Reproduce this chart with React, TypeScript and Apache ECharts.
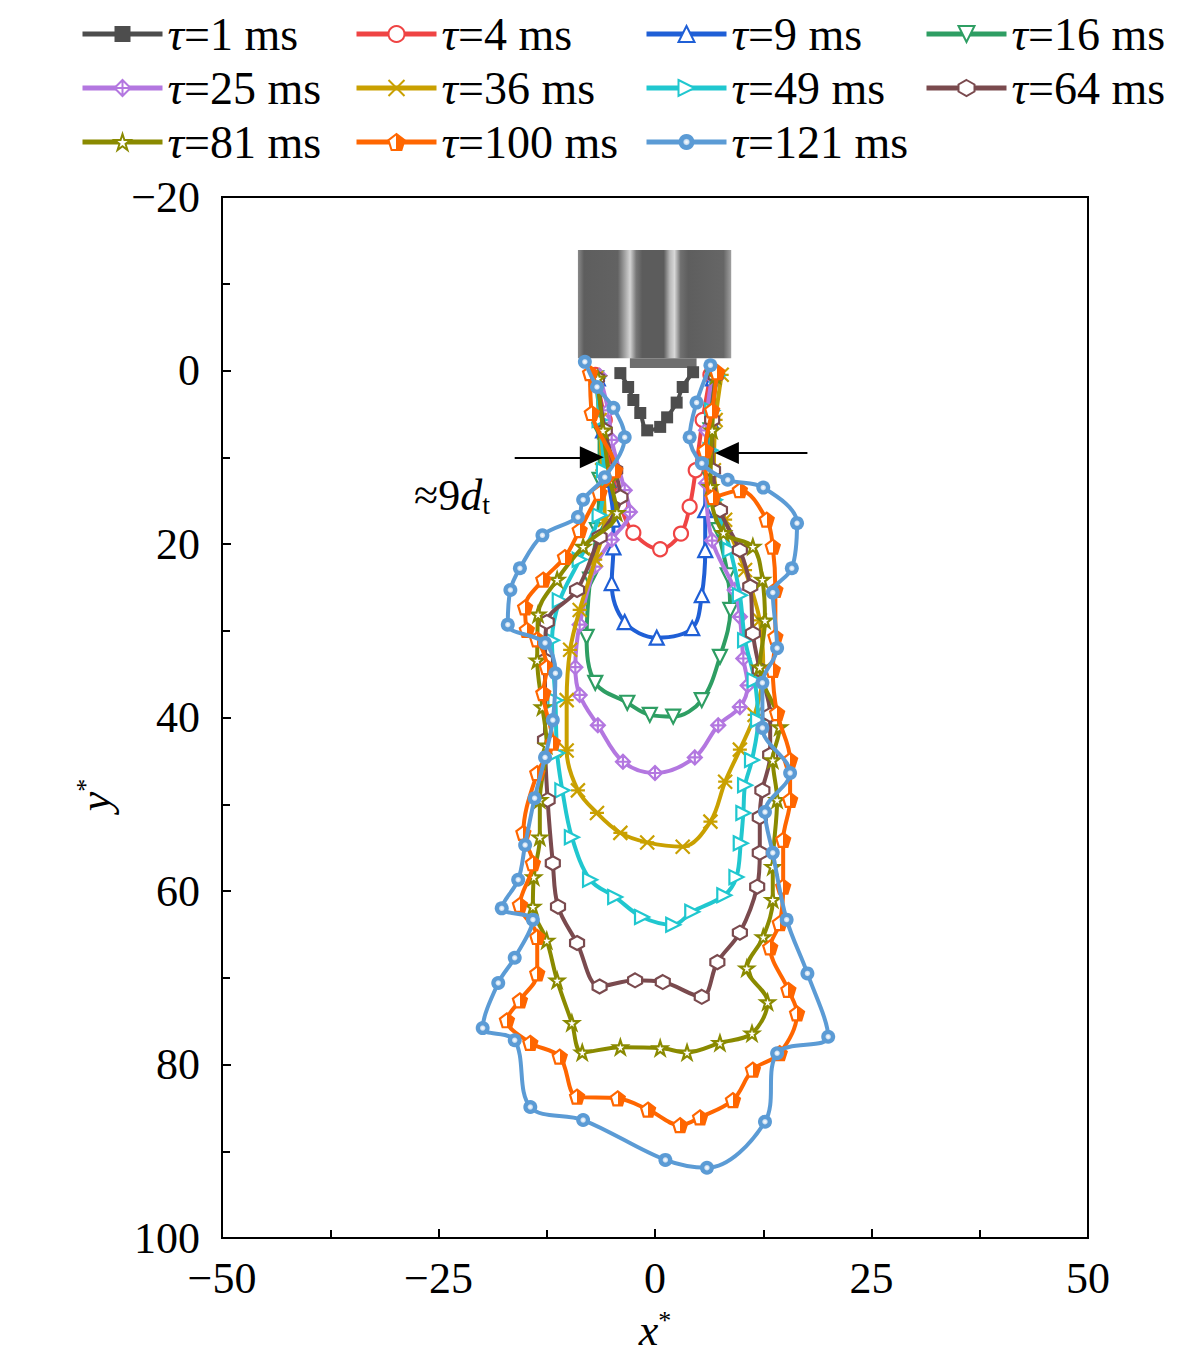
import React, { useEffect, useRef } from 'react';
import * as echarts from 'echarts';

const legendNames = [
  'τ=1 ms', 'τ=4 ms', 'τ=9 ms', 'τ=16 ms', 'τ=25 ms', 'τ=36 ms',
  'τ=49 ms', 'τ=64 ms', 'τ=81 ms', 'τ=100 ms', 'τ=121 ms',
];
const xTicks = [-50, -25, 0, 25, 50];
const yTicks = [-20, 0, 20, 40, 60, 80, 100];

const tau1 = [[-4.0, 0.3], [-3.1, 1.9], [-2.5, 3.4], [-1.7, 4.9], [-0.9, 6.9], [0.6, 6.5], [1.4, 5.4], [2.5, 3.7], [3.2, 1.9], [4.4, 0.2]];
const tau4 = [[-6.9, 0.5], [-5.8, 5.7], [-5.0, 11.5], [-4.0, 15.5], [-2.5, 18.7], [0.6, 20.6], [3.0, 18.8], [4.0, 15.7], [4.7, 11.5], [5.5, 5.7], [6.4, 0.5]];
const tau9 = [[-6.6, 0.9], [-6.0, 6.9], [-5.4, 12.6], [-4.8, 17.2], [-4.8, 20.4], [-5.0, 24.5], [-3.5, 29.0], [0.2, 30.8], [4.3, 29.7], [5.4, 25.9], [5.8, 20.7], [5.8, 16.1], [5.9, 10.3], [6.4, 5.7], [6.7, 0.9]];
const tau16 = [[-6.8, 0.9], [-6.4, 6.9], [-6.4, 12.6], [-6.7, 18.4], [-7.5, 24.1], [-7.9, 30.7], [-6.9, 36.0], [-3.2, 38.3], [-0.6, 39.7], [2.1, 39.9], [5.4, 38.0], [7.5, 33.0], [8.7, 27.6], [8.4, 23.6], [7.3, 18.4], [6.4, 12.6], [6.4, 6.9], [6.7, 0.9]];
const tau25 = [[-6.4, 0.6], [-5.4, 4.6], [-5.0, 8.0], [-3.5, 13.8], [-2.9, 16.3], [-5.0, 19.5], [-6.9, 22.6], [-8.7, 29.3], [-9.2, 34.2], [-8.7, 37.4], [-6.6, 40.9], [-3.7, 45.1], [0.0, 46.4], [4.6, 44.6], [7.3, 40.9], [9.8, 38.8], [10.7, 36.3], [10.2, 33.2], [9.8, 28.4], [9.2, 25.3], [6.6, 19.6], [5.9, 13.0], [5.9, 6.9], [6.6, 0.7]];
const tau36 = [[-6.8, 0.9], [-6.4, 5.7], [-6.1, 11.5], [-5.8, 17.2], [-6.9, 21.8], [-8.7, 27.6], [-9.8, 32.2], [-10.2, 38.0], [-10.2, 43.8], [-8.9, 48.4], [-6.7, 51.0], [-4.0, 53.3], [-0.9, 54.4], [3.2, 54.9], [6.4, 52.0], [8.1, 47.4], [9.8, 43.7], [11.5, 39.7], [12.5, 34.5], [12.1, 28.8], [10.4, 23.0], [8.1, 17.2], [6.8, 11.5], [7.0, 5.7], [7.7, 0.5]];
const tau49 = [[-6.7, 0.9], [-6.4, 5.7], [-5.9, 11.5], [-6.4, 16.7], [-8.7, 21.8], [-11.0, 26.5], [-11.9, 31.1], [-11.5, 38.0], [-11.3, 44.1], [-10.7, 48.4], [-9.6, 53.8], [-7.5, 58.7], [-4.6, 60.7], [-1.5, 63.0], [2.1, 63.9], [4.3, 62.4], [8.0, 60.5], [9.4, 58.4], [9.9, 54.5], [10.2, 51.0], [10.4, 47.8], [11.2, 44.9], [11.9, 40.3], [11.5, 35.7], [10.4, 31.1], [9.8, 25.9], [8.7, 20.7], [6.9, 14.9], [6.4, 9.2], [6.6, 4.6], [7.2, 0.6]];
const tau64 = [[-6.7, 0.9], [-5.8, 6.9], [-4.6, 11.5], [-4.0, 14.6], [-6.4, 19.2], [-9.0, 25.3], [-12.5, 29.0], [-12.7, 33.4], [-12.7, 42.6], [-12.4, 49.5], [-11.8, 56.8], [-11.2, 61.8], [-9.0, 66.0], [-6.4, 71.0], [-2.3, 70.3], [0.9, 70.5], [5.4, 72.2], [7.2, 68.2], [9.8, 64.8], [11.8, 59.5], [12.1, 55.6], [12.1, 51.5], [12.4, 48.4], [13.3, 44.3], [13.3, 39.7], [12.1, 34.5], [11.3, 30.3], [11.0, 24.9], [9.8, 20.7], [7.5, 16.1], [6.7, 11.5], [6.6, 5.7], [7.0, 0.6]];
const tau81 = [[-6.6, 0.9], [-6.0, 6.9], [-5.2, 12.6], [-4.4, 16.4], [-8.3, 20.3], [-11.3, 24.1], [-13.5, 28.1], [-13.6, 33.4], [-13.0, 38.8], [-12.5, 43.2], [-13.3, 49.5], [-13.3, 53.8], [-14.0, 58.4], [-14.1, 61.8], [-12.5, 65.7], [-11.3, 70.3], [-9.6, 75.2], [-8.4, 78.6], [-4.0, 78.0], [0.6, 78.1], [3.7, 78.6], [7.5, 77.5], [11.2, 76.4], [13.0, 72.8], [10.6, 68.9], [12.5, 65.3], [13.6, 61.0], [13.6, 57.2], [14.1, 49.5], [13.6, 44.9], [14.4, 41.1], [12.1, 34.2], [12.7, 28.8], [12.4, 24.1], [11.3, 20.3], [7.9, 18.7], [6.4, 13.4], [6.6, 6.9], [7.0, 0.6]];
const tau100 = [[-7.5, 0.3], [-7.3, 4.9], [-4.6, 11.5], [-6.4, 14.1], [-8.7, 18.4], [-10.4, 21.5], [-12.9, 24.1], [-15.0, 27.3], [-14.8, 29.9], [-13.6, 31.0], [-12.5, 34.2], [-12.9, 37.2], [-11.8, 42.9], [-13.6, 46.4], [-15.2, 53.3], [-14.1, 56.8], [-15.6, 61.6], [-13.6, 65.3], [-13.6, 69.5], [-15.6, 72.6], [-17.1, 74.9], [-14.4, 77.5], [-11.0, 79.1], [-9.0, 83.7], [-4.3, 83.9], [-0.8, 85.2], [2.9, 87.0], [5.2, 86.1], [9.0, 84.1], [11.3, 80.6], [14.4, 78.7], [16.4, 74.1], [15.4, 71.4], [13.3, 66.5], [14.4, 63.7], [14.8, 59.5], [14.8, 54.1], [15.6, 49.5], [15.6, 44.9], [14.1, 39.5], [13.6, 34.5], [13.9, 30.7], [13.9, 25.3], [13.6, 20.3], [12.9, 17.2], [9.8, 13.8], [6.7, 14.6], [5.8, 9.2], [6.6, 4.6], [7.2, 0.2]];
const tau121 = [[-8.1, -1.0], [-6.7, 1.9], [-4.8, 4.3], [-3.5, 7.7], [-5.8, 12.3], [-8.3, 14.9], [-8.9, 16.9], [-13.0, 19.0], [-15.6, 22.8], [-16.7, 25.3], [-17.0, 29.3], [-12.7, 31.4], [-11.5, 34.9], [-11.8, 40.3], [-12.7, 44.6], [-13.9, 49.3], [-15.0, 54.7], [-15.8, 58.7], [-17.7, 62.0], [-14.1, 63.3], [-16.2, 67.7], [-18.1, 70.6], [-19.9, 75.8], [-16.2, 77.2], [-14.4, 84.9], [-8.3, 86.4], [1.2, 91.0], [6.0, 91.9], [12.7, 86.6], [14.1, 78.7], [20.0, 76.8], [17.6, 69.5], [15.2, 63.3], [13.6, 55.6], [12.7, 50.9], [15.6, 46.4], [12.4, 41.2], [12.4, 36.0], [14.1, 32.0], [13.6, 25.6], [15.8, 22.8], [16.4, 17.6], [12.5, 13.5], [8.4, 12.6], [5.4, 10.7], [4.0, 7.7], [4.8, 3.7], [6.4, -0.6]];

// nozzle image: [x0, y0, x1, y1] in data units
const nozzleRects = [[-8.9, -13.9, 8.8, -1.4], [-2.9, -1.4, 4.8, -0.3]];
// arrows marking the neck width
const arrowLeft = [[-16.2, 10], [-7.3, 10]];
const arrowRight = [[17.6, 9.5], [8.3, 9.5]];

const SERIF = '"Liberation Serif", "Times New Roman", serif';
const FS = 44;
const LFS = 46;

const colors = ['#4d4d4d', '#ef4444', '#1f5fd6', '#2e9e63', '#b377e0', '#c9a000', '#20c7cf', '#7a4a4e', '#8a8a00', '#ff6600', '#5b9bd5'];

const symbols = [
  'rect',
  'circle',
  'triangle',
  'path://M0,0 L10,0 L5,9 Z',
  'path://M5,0 L10,5 L5,10 L0,5 Z M5,0 L5,10 M0,5 L10,5',
  'path://M0,1 L10,9 M0,9 L10,1 M0,5 L10,5',
  'path://M0,0 L9,5 L0,10 Z',
  'path://M5,0 L10,2.8 L10,7.2 L5,10 L0,7.2 L0,2.8 Z',
  'path://M5,0 L6.2,3.6 L10,3.6 L6.9,5.9 L8.1,9.5 L5,7.3 L1.9,9.5 L3.1,5.9 L0,3.6 L3.8,3.6 Z',
  'path://M5,0 L10,3.8 L8.1,10 L1.9,10 L0,3.8 Z',
  'circle',
];
const datas = [tau1, tau4, tau9, tau16, tau25, tau36, tau49, tau64, tau81, tau100, tau121];

const fills = (i: number) => {
  if (i === 0) return colors[0];
  if (i === 10)
    return {
      type: 'radial', x: 0.5, y: 0.5, r: 0.5,
      colorStops: [
        { offset: 0, color: '#ffffff' },
        { offset: 0.3, color: '#cfe1f3' },
        { offset: 0.45, color: '#5b9bd5' },
        { offset: 1, color: '#5b9bd5' },
      ],
    };
  if (i === 5) return 'rgba(0,0,0,0)';
  if (i === 9)
    return {
      type: 'linear', x: 0, y: 0, x2: 1, y2: 0,
      colorStops: [
        { offset: 0, color: '#ffffff' },
        { offset: 0.5, color: '#ffffff' },
        { offset: 0.5, color: '#ff6600' },
        { offset: 1, color: '#ff6600' },
      ],
    };
  return '#ffffff';
};

const nozzleFill = {
  type: 'linear', x: 0, y: 0, x2: 1, y2: 0,
  colorStops: [
    { offset: 0, color: '#8a8a8a' },
    { offset: 0.04, color: '#5e5e5e' },
    { offset: 0.26, color: '#626262' },
    { offset: 0.3, color: '#9a9a9a' },
    { offset: 0.34, color: '#d4d4d4' },
    { offset: 0.38, color: '#777777' },
    { offset: 0.42, color: '#5c5c5c' },
    { offset: 0.56, color: '#5c5c5c' },
    { offset: 0.6, color: '#b8b8b8' },
    { offset: 0.63, color: '#d8d8d8' },
    { offset: 0.67, color: '#707070' },
    { offset: 0.72, color: '#5e5e5e' },
    { offset: 0.95, color: '#666666' },
    { offset: 1, color: '#a0a0a0' },
  ],
};

const fmtNum = (v: number) => (v < 0 ? '\u2212' + Math.abs(v) : String(v));

export default function App() {
  const ref = useRef<HTMLDivElement>(null);
  useEffect(() => {
    document.body.style.margin = '0';
    const chart = echarts.init(ref.current as HTMLDivElement, null, { renderer: 'svg' });

    const lineSeries: any[] = datas.map((d, i) => ({
      type: 'line',
      name: legendNames[i],
      data: d,
      smooth: 0.35,
      symbol: symbols[i],
      symbolSize: i === 0 ? 12 : 14,
      showAllSymbol: true,
      color: colors[i],
      lineStyle: { color: colors[i], width: 4 },
      itemStyle: { color: fills(i), borderColor: colors[i], borderWidth: i === 0 || i === 10 ? 0 : 2.2 },
      z: 3 + i,
      emphasis: { disabled: true },
    }));

    lineSeries[0].markLine = {
      silent: true,
      symbol: ['none', 'triangle'],
      symbolSize: [22, 24],
      label: { show: false },
      lineStyle: { color: '#000', width: 2, type: 'solid' },
      itemStyle: { color: '#000' },
      data: [
        [{ coord: arrowLeft[0] }, { coord: arrowLeft[1] }],
        [{ coord: arrowRight[0] }, { coord: arrowRight[1] }],
      ],
      z: 20,
    };

    const nozzle = {
      type: 'custom',
      name: 'nozzle',
      data: nozzleRects,
      encode: { x: [0, 2], y: [1, 3] },
      z: 2,
      silent: true,
      renderItem: (params: any, api: any) => {
        const p0 = api.coord([api.value(0), api.value(1)]);
        const p1 = api.coord([api.value(2), api.value(3)]);
        return {
          type: 'rect',
          shape: { x: p0[0], y: p0[1], width: p1[0] - p0[0], height: p1[1] - p0[1] },
          style: { fill: params.dataIndex === 0 ? nozzleFill : '#6e6e6e' },
        };
      },
    };

    const legendCols = [[0, 4, 8], [1, 5, 9], [2, 6, 10], [3, 7]];
    const legendLefts = [80, 354, 644, 924];
    const legends = legendCols.map((col, k) => ({
      orient: 'vertical',
      left: legendLefts[k],
      top: 11,
      padding: 0,
      itemWidth: 80,
      itemHeight: 20,
      itemGap: 8,
      itemTextGap: 2,
      lineStyle: { width: 5 },
      data: col.map((i) => legendNames[i]),
      formatter: (name: string) => `{t|τ}{r|${name.slice(1)}}`,
      textStyle: {
        color: '#000',
        fontFamily: SERIF,
        fontSize: LFS,
        lineHeight: 44,
        rich: {
          t: { fontFamily: SERIF, fontSize: LFS, fontStyle: 'italic', color: '#000', lineHeight: 44 },
          r: { fontFamily: SERIF, fontSize: LFS, color: '#000', lineHeight: 44 },
        },
      },
      selectedMode: false,
    }));

    const axisCommon = {
      axisLine: { show: true, onZero: false, lineStyle: { color: '#000', width: 2 } },
      axisTick: { show: true, inside: true, length: 9, lineStyle: { color: '#000', width: 2 } },
      minorTick: { show: true, splitNumber: 2, length: 8, lineStyle: { color: '#000', width: 2 } },
      splitLine: { show: false },
      axisLabel: { color: '#000', fontFamily: SERIF, fontSize: FS, margin: 18, formatter: fmtNum },
    };

    const option: any = {
      animation: false,
      backgroundColor: '#ffffff',
      grid: {
        left: 222, right: 93, top: 197, bottom: 117,
        show: true, borderColor: '#000', borderWidth: 2, backgroundColor: 'transparent',
      },
      legend: legends,
      xAxis: {
        type: 'value',
        min: xTicks[0],
        max: xTicks[xTicks.length - 1],
        interval: 25,
        ...axisCommon,
      },
      yAxis: {
        type: 'value',
        inverse: true,
        min: yTicks[0],
        max: yTicks[yTicks.length - 1],
        interval: 20,
        ...axisCommon,
        axisLabel: { ...axisCommon.axisLabel, margin: 22 },
      },
      graphic: [
        {
          type: 'text',
          x: 655,
          y: 1330,
          style: {
            text: '{v|x}{s|*}',
            textAlign: 'center',
            textVerticalAlign: 'middle',
            rich: {
              v: { fontFamily: SERIF, fontSize: FS, fontStyle: 'italic', fill: '#000' },
              s: { fontFamily: SERIF, fontSize: 26, fill: '#000', padding: [0, 0, 20, 0] },
            },
          },
        },
        {
          type: 'text',
          x: 95,
          y: 795,
          rotation: Math.PI / 2,
          style: {
            text: '{v|y}{s|*}',
            textAlign: 'center',
            textVerticalAlign: 'middle',
            rich: {
              v: { fontFamily: SERIF, fontSize: FS, fontStyle: 'italic', fill: '#000' },
              s: { fontFamily: SERIF, fontSize: 26, fill: '#000', padding: [0, 0, 20, 0] },
            },
          },
        },
        {
          type: 'text',
          x: 414,
          y: 495,
          style: {
            text: '{a|≈9}{d|d}{s|t}',
            textVerticalAlign: 'middle',
            rich: {
              a: { fontFamily: SERIF, fontSize: FS, fill: '#000' },
              d: { fontFamily: SERIF, fontSize: FS, fontStyle: 'italic', fill: '#000' },
              s: { fontFamily: SERIF, fontSize: 28, fill: '#000', padding: [18, 0, 0, 0] },
            },
          },
        },
      ],
      series: [nozzle, ...lineSeries],
    };

    chart.setOption(option);
    return () => chart.dispose();
  }, []);
  return <div ref={ref} style={{ width: 1181, height: 1355 }} />;
}
